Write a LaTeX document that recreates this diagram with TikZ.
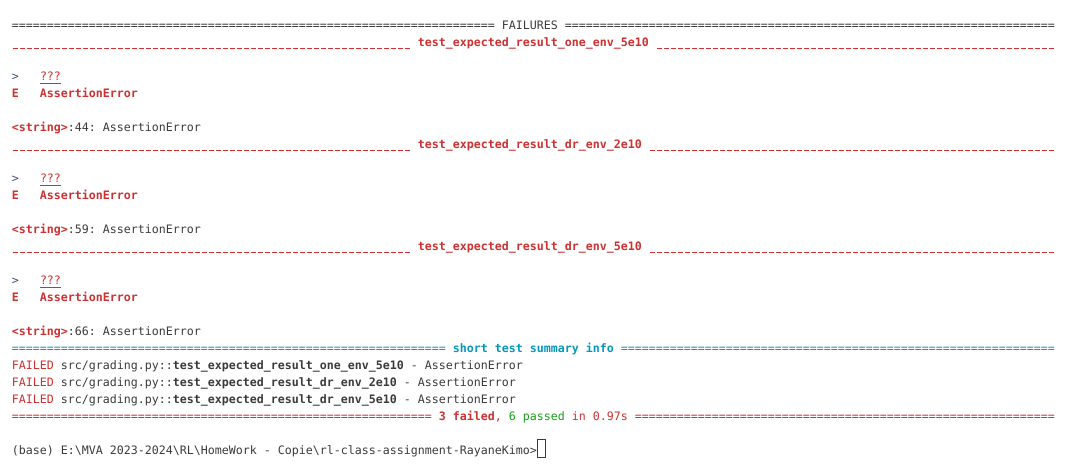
\documentclass[tikz,border=0pt]{standalone}
\usepackage{fontspec}
\setmonofont{DejaVu Sans Mono}
\ExplSyntaxOn
\cs_new_eq:NN \myrep \prg_replicate:nn
\ExplSyntaxOff
\definecolor{dk}{HTML}{3B3B3B}
\definecolor{rd}{HTML}{CD3131}
\definecolor{tl}{HTML}{0598BC}
\definecolor{gn}{HTML}{18A018}
\definecolor{pr}{HTML}{3D4F70}
\tikzset{
  txt/.style={anchor=base west, inner sep=0pt, outer sep=0pt, text=dk,
    font=\ttfamily\fontsize{11.626}{17}\selectfont},
  cursorbox/.style={draw=dk, line width=0.8pt, inner sep=0pt, minimum width=7.5pt,
    minimum height=18pt, anchor=north west}
}
\newcommand\us{\_}
\newcommand\sus{\makebox[7pt][c]{\rule[-2.6pt]{5.6pt}{1.1pt}}}
\begin{document}
\begin{tikzpicture}[x=1pt,y=-1pt]
\fill[white] (0,0) rectangle (1072,464);
\useasboundingbox (0,0) rectangle (1072,464);
% header
\node[txt] (r0) at (12,29) {\myrep{69}{=} FAILURES \myrep{70}{=}};
% failure 1
\node[txt,text=rd] (r1) at (12,46) {\bfseries\myrep{57}{\sus} test\us expected\us result\us one\us env\us 5e10 \myrep{57}{\sus}};
\node[txt,text=pr] (a1) at (12,80) {>};
\node[txt,text=rd] (q1) at (40,80) {???};
\draw[rd, line width=0.9pt] ([yshift=-3pt]q1.base west) -- ([yshift=-3pt]q1.base east);
\node[txt,text=rd] (e1) at (12,97) {\bfseries E\ \ \ AssertionError};
\node[txt] (s1) at (12,131) {\textcolor{rd}{\bfseries<string>}:44: AssertionError};
% failure 2
\node[txt,text=rd] (r2) at (12,148) {\bfseries\myrep{57}{\sus} test\us expected\us result\us dr\us env\us 2e10 \myrep{58}{\sus}};
\node[txt,text=pr] (a2) at (12,182) {>};
\node[txt,text=rd] (q2) at (40,182) {???};
\draw[rd, line width=0.9pt] ([yshift=-3pt]q2.base west) -- ([yshift=-3pt]q2.base east);
\node[txt,text=rd] (e2) at (12,199) {\bfseries E\ \ \ AssertionError};
\node[txt] (s2) at (12,233) {\textcolor{rd}{\bfseries<string>}:59: AssertionError};
% failure 3
\node[txt,text=rd] (r3) at (12,250) {\bfseries\myrep{57}{\sus} test\us expected\us result\us dr\us env\us 5e10 \myrep{58}{\sus}};
\node[txt,text=pr] (a3) at (12,284) {>};
\node[txt,text=rd] (q3) at (40,284) {???};
\draw[rd, line width=0.9pt] ([yshift=-3pt]q3.base west) -- ([yshift=-3pt]q3.base east);
\node[txt,text=rd] (e3) at (12,301) {\bfseries E\ \ \ AssertionError};
\node[txt] (s3) at (12,335) {\textcolor{rd}{\bfseries<string>}:66: AssertionError};
% summary
\node[txt,text=tl] (sm) at (12,352) {\myrep{62}{=} \textbf{short test summary info} \myrep{62}{=}};
\node[txt] (f1) at (12,369) {\textcolor{rd}{FAILED} src/grading.py::\textbf{test\us expected\us result\us one\us env\us 5e10} - AssertionError};
\node[txt] (f2) at (12,386) {\textcolor{rd}{FAILED} src/grading.py::\textbf{test\us expected\us result\us dr\us env\us 2e10} - AssertionError};
\node[txt] (f3) at (12,403) {\textcolor{rd}{FAILED} src/grading.py::\textbf{test\us expected\us result\us dr\us env\us 5e10} - AssertionError};
\node[txt,text=rd] (tot) at (12,420) {\myrep{60}{=} \textbf{3 failed}, \textcolor{gn}{6 passed} in 0.97s \myrep{60}{=}};
% prompt
\node[txt] (pm) at (12,454) {(base) E:\textbackslash MVA 2023-2024\textbackslash RL\textbackslash HomeWork - Copie\textbackslash rl-class-assignment-RayaneKimo>};
\node[cursorbox] (cur) at (537,439) {};
\end{tikzpicture}
\end{document}
